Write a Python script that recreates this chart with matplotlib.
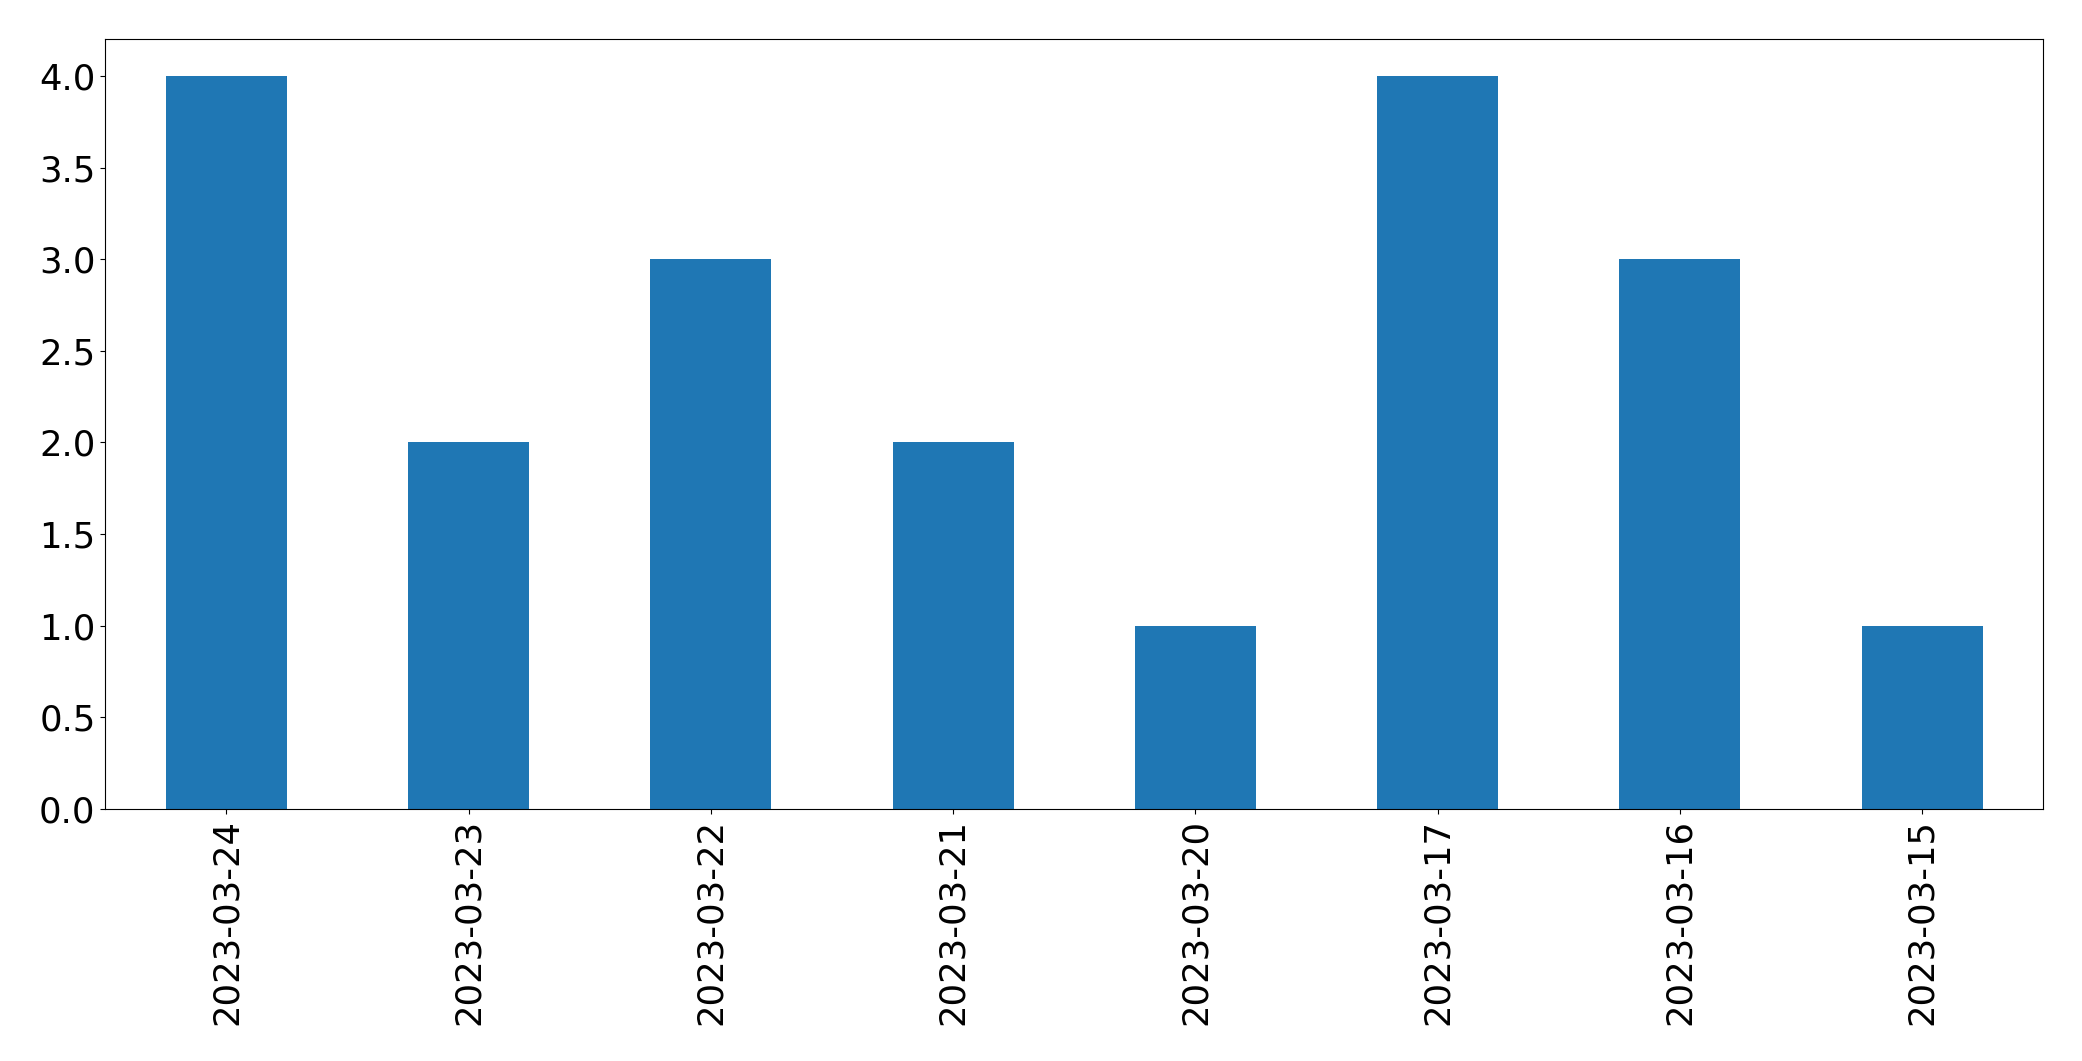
import matplotlib
matplotlib.use("Agg")
import matplotlib.pyplot as plt
import pandas as pd

# daily counts, newest first
dates = ["2023-03-24", "2023-03-23", "2023-03-22", "2023-03-21",
         "2023-03-20", "2023-03-17", "2023-03-16", "2023-03-15"]
counts = [4, 2, 3, 2, 1, 4, 3, 1]

s = pd.Series(counts, index=dates)

fig = plt.figure(figsize=(20.82, 10.61), dpi=100)
W, H = 2082, 1061
ax = fig.add_axes([105.3 / W, 1 - 809 / H, (2043.3 - 105.3) / W, (809 - 39.3) / H])

s.plot(kind="bar", ax=ax, color="#1f77b4", width=0.5)
ax.tick_params(axis="both", labelsize=25.5)
ax.set_ylim(0, 4.2)

fig.savefig("out.png", dpi=100)
